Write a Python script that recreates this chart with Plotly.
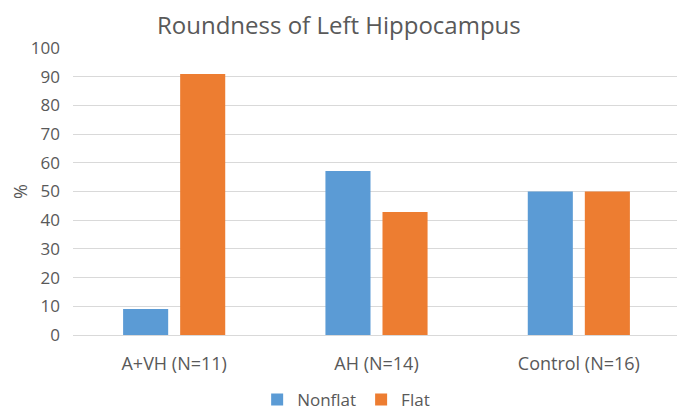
import plotly.graph_objects as go

categories = ["A+VH (N=11)", "AH (N=14)", "Control (N=16)"]
nonflat = [9.09, 57.14, 50.0]
flat = [90.91, 42.86, 50.0]

fig = go.Figure()
fig.add_trace(go.Bar(name="Nonflat", x=categories, y=nonflat, marker=dict(color="#5B9BD5", line=dict(width=0))))
fig.add_trace(go.Bar(name="Flat", x=categories, y=flat, marker=dict(color="#ED7D31", line=dict(width=0))))

fig.update_layout(
    width=677, height=402,
    paper_bgcolor="white", plot_bgcolor="white",
    font=dict(family="Open Sans, Liberation Sans, sans-serif", color="#595959", size=16),
    title=dict(text="Roundness of Left Hippocampus", xref="paper", x=0.438, xanchor="center",
               y=0.955, yanchor="middle", font=dict(size=24, color="#595959")),
    margin=dict(l=65, r=5, t=40, b=75, autoexpand=False),
    barmode="group", bargap=0.436, bargroupgap=0.21,
    showlegend=True,
    legend=dict(orientation="h", xref="paper", x=0.45, xanchor="center", y=-0.226, yanchor="middle",
                font=dict(size=17, color="#595959"), itemwidth=30, tracegroupgap=0),
    xaxis=dict(showgrid=False, showline=True, linecolor="#D9D9D9", ticks="", tickfont=dict(size=18),
               ticklabelstandoff=12, automargin=False),
    yaxis=dict(range=[0, 100], dtick=10, showgrid=True, gridcolor="#D9D9D9", zeroline=False,
               ticks="", tickfont=dict(size=17), ticklabelstandoff=12, automargin=False,
               title=dict(text="%", font=dict(size=18), standoff=18)),
)

fig.write_html("out.html")
